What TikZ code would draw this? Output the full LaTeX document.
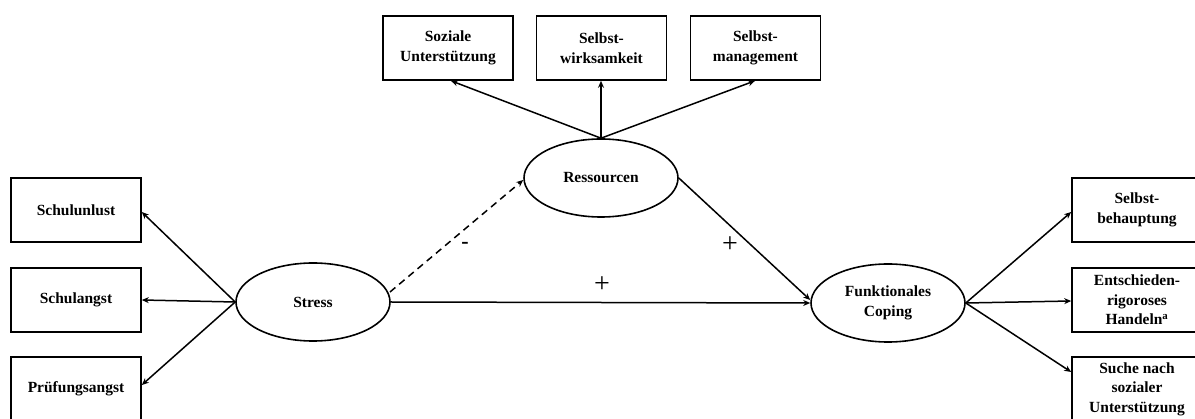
\documentclass[tikz,border=0pt]{standalone}
\usepackage{fontspec}
\setmainfont{Liberation Serif}
\usetikzlibrary{arrows.meta,shapes.geometric}
\begin{document}
\begin{tikzpicture}[x=1pt,y=-1pt,
  every node/.style={font=\fontsize{15.5}{19.5}\selectfont\bfseries, align=center},
  box/.style={draw, line width=1.6pt, minimum width=130pt, minimum height=64pt, inner sep=0pt},
  latent/.style={draw, line width=1.6pt, ellipse, minimum width=154pt, minimum height=78pt, inner sep=0pt},
  path/.style={line width=1.5pt, -{Stealth[length=7pt,width=6pt]}},
  plus/.style={font=\fontsize{28}{28}\selectfont\mdseries},
  minus/.style={font=\fontsize{22}{22}\selectfont\bfseries}]
\useasboundingbox (0,0) rectangle (1195,419);
% indicator boxes
\node[box] (unlust) at (76,210) {Schulunlust};
\node[box] (angst) at (76,300) {Schulangst};
\node[box] (pruef) at (76,389) {Prüfungsangst};
\node[box] (sozial) at (448,48) {Soziale\\Unterstützung};
\node[box] (swirk) at (601.5,48) {Selbst-\\wirksamkeit};
\node[box] (smgmt) at (755.5,48) {Selbst-\\management};
\node[box] (sbeh) at (1137,210) {Selbst-\\behauptung};
\node[box] (entsch) at (1137,300) {Entschieden-\\rigoroses\\Handeln\textsuperscript{a}};
\node[box] (suche) at (1137,389) {Suche nach\\sozialer\\Unterstützung};
% latent variables
\node[latent] (stress) at (313,302) {Stress};
\node[latent] (ress) at (601,178) {Ressourcen};
\node[latent] (coping) at (888,303) {Funktionales\\Coping};
% loadings
\draw[path] (stress.west) -- (unlust.east |- 0,212);
\draw[path] (stress.west) -- (angst.east);
\draw[path] (stress.west) -- (pruef.east |- 0,385);
\draw[path] (ress.north) -- (sozial.south -| 451,0);
\draw[path] (ress.north) -- (swirk.south -| 601,0);
\draw[path] (ress.north) -- (smgmt.south -| 755,0);
\draw[path] (coping.east) -- (sbeh.west |- 0,212);
\draw[path] (coping.east) -- (entsch.west |- 0,301);
\draw[path] (coping.east) -- (suche.west |- 0,372);
% structural paths
\coordinate (sr) at (390,292);
\draw[path, dash pattern=on 7pt off 5pt] (sr) -- (ress.west |- 0,180);
\draw[path] (ress.east) -- (coping.west |- 0,300);
\draw[path] (stress.east) -- (coping.west);
\node[minus] (m1) at (465,245) {-};
\node[plus] (p1) at (730,245) {+};
\node[plus] (p2) at (602,285) {+};
\end{tikzpicture}
\end{document}
